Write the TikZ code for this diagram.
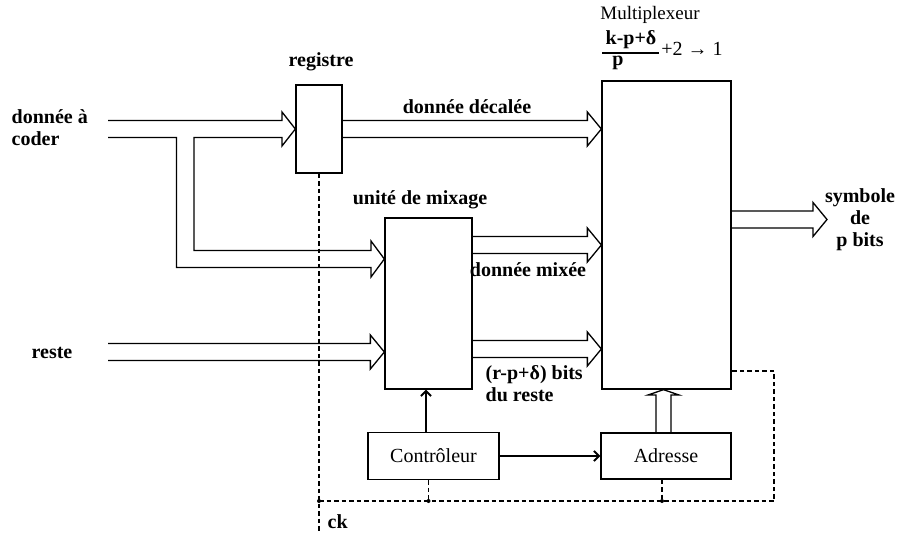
\documentclass[tikz,border=0pt]{standalone}
\usepackage{fontspec}
\setmainfont{Liberation Serif}
\usetikzlibrary{arrows.meta,calc}
\newcommand\hollowarr[2]{%
  \draw let \p1=(#1), \p2=(#2) in
    (\x1,\y2+8.5) -- (\x2-14,\y2+8.5) -- (\x2-14,\y2+17) -- (\x2,\y2)
    -- (\x2-14,\y2-17) -- (\x2-14,\y2-8.5) -- (\x1,\y2-8.5);}
\begin{document}
\begin{tikzpicture}[x=1pt,y=-1pt,line width=1.3pt,
  box/.style={draw,rectangle,inner sep=0pt},
  lbl/.style={font=\fontsize{20}{22}\selectfont\bfseries,inner sep=0pt},
  rlbl/.style={font=\fontsize{20}{22}\selectfont,inner sep=0pt},
  clk/.style={dash pattern=on 4.5pt off 3pt,line width=1.1pt},
  ctl/.style={line width=2pt,-{Straight Barb[length=5pt,width=10pt]}},
  jdot/.style={fill,circle,inner sep=0pt,minimum size=4pt}]
\useasboundingbox (0,0) rectangle (899,540);

% boxes
\node[box,minimum width=46pt,minimum height=88pt] (reg) at (319,129) {};
\node[box,minimum width=87pt,minimum height=171pt] (mix) at (428.5,303.5) {};
\node[box,minimum width=129pt,minimum height=308pt] (mux) at (666.5,235) {};
\node[box,minimum width=131pt,minimum height=47pt,rlbl] (ctrl) at (433.5,456) {Contrôleur};
\node[box,minimum width=130pt,minimum height=46pt,rlbl] (adr) at (666,456) {Adresse};

% labels
\node[lbl,anchor=west,align=left] (lin) at (11,128) {donnée à\\coder};
\node[lbl] (lreg) at (321,62) {registre};
\node[lbl] (ldec) at (467,107) {donnée décalée};
\node[lbl] (lmix) at (420,200) {unité de mixage};
\node[lbl] (lmixee) at (528,270) {donnée mixée};
\node[lbl,anchor=west,align=left] (lbits) at (485,384) {(r-p+δ) bits\\du reste};
\node[lbl] (lreste) at (52,353) {reste};
\node[rlbl,font=\fontsize{19}{21}\selectfont] (lmux) at (650,15) {Multiplexeur};
\node[lbl] (lnum) at (631,40) {k-p+δ};
\node[lbl] (lden) at (618,63) {p};
\draw (602,53) -- (659,53);
\node[rlbl] (lratio) at (692,49) {+2 → 1};
\node[lbl,align=center] (lsym) at (860,220) {symbole\\de\\p bits};
\node[lbl,anchor=west] (lck) at (327,522) {ck};

% coordinates
\coordinate (inA) at (108,129);
\coordinate (inR) at (108,352);
\coordinate (m1) at (mix.east |- 0,245);
\coordinate (m2) at (mix.east |- 0,349);
\coordinate (o1) at (mux.east |- 0,219.5);
\coordinate (o1t) at (827,219.5);

% input data: split into register and mixing unit
\draw (inA) ++(0,-8.5) -- (282,120.5) -- (282,112) -- (reg.west |- inA)
  -- (282,146) -- (282,137.5) -- (194,137.5) -- (194,250.5) -- (371,250.5)
  -- (371,241) -- (mix.west |- 0,259) -- (371,277) -- (371,267.5)
  -- (176.5,267.5) -- (176.5,137.5) -- (108,137.5);

% bus arrows
\hollowarr{reg.east}{reg.east -| mux.west}
\hollowarr{inR}{inR -| mix.west}
\hollowarr{m1}{m1 -| mux.west}
\hollowarr{m2}{m2 -| mux.west}
\hollowarr{o1}{o1t}

% address bus to multiplexer
\draw (656,0 |- adr.north) -- (656,395) -- (648,395) -- (663.5,0 |- mux.south)
  -- (679,395) -- (671,395) -- (671,0 |- adr.north);

% control
\draw[ctl] ($(ctrl.north)+(-7.5,0)$) -- ($(ctrl.north |- mix.south)+(-7.5,0)$);
\draw[ctl] (ctrl.east) -- (ctrl.east -| adr.west);

% clock
\coordinate (c2) at ($(ctrl.south)+(-5,0)$);
\coordinate (c3) at ($(adr.south)+(-4,0)$);
\coordinate (ck1) at (reg.south |- 0,501);
\coordinate (ck2) at (c2 |- 0,501);
\coordinate (ck3) at (c3 |- 0,501);
\coordinate (ckR) at (774,501);
\coordinate (ckend) at (reg.south |- 0,532);
\draw[clk] (reg.south) -- (ckend);
\draw[clk] (ck1) -- (ckR) -- (ckR |- 0,371) -- (mux.east |- 0,371);
\draw[clk] (c2) -- (ck2);
\draw[clk] (c3) -- (ck3);
\node[jdot] at (ck1) {};
\node[jdot] at (ck2) {};
\node[jdot] at (ck3) {};
\end{tikzpicture}
\end{document}
